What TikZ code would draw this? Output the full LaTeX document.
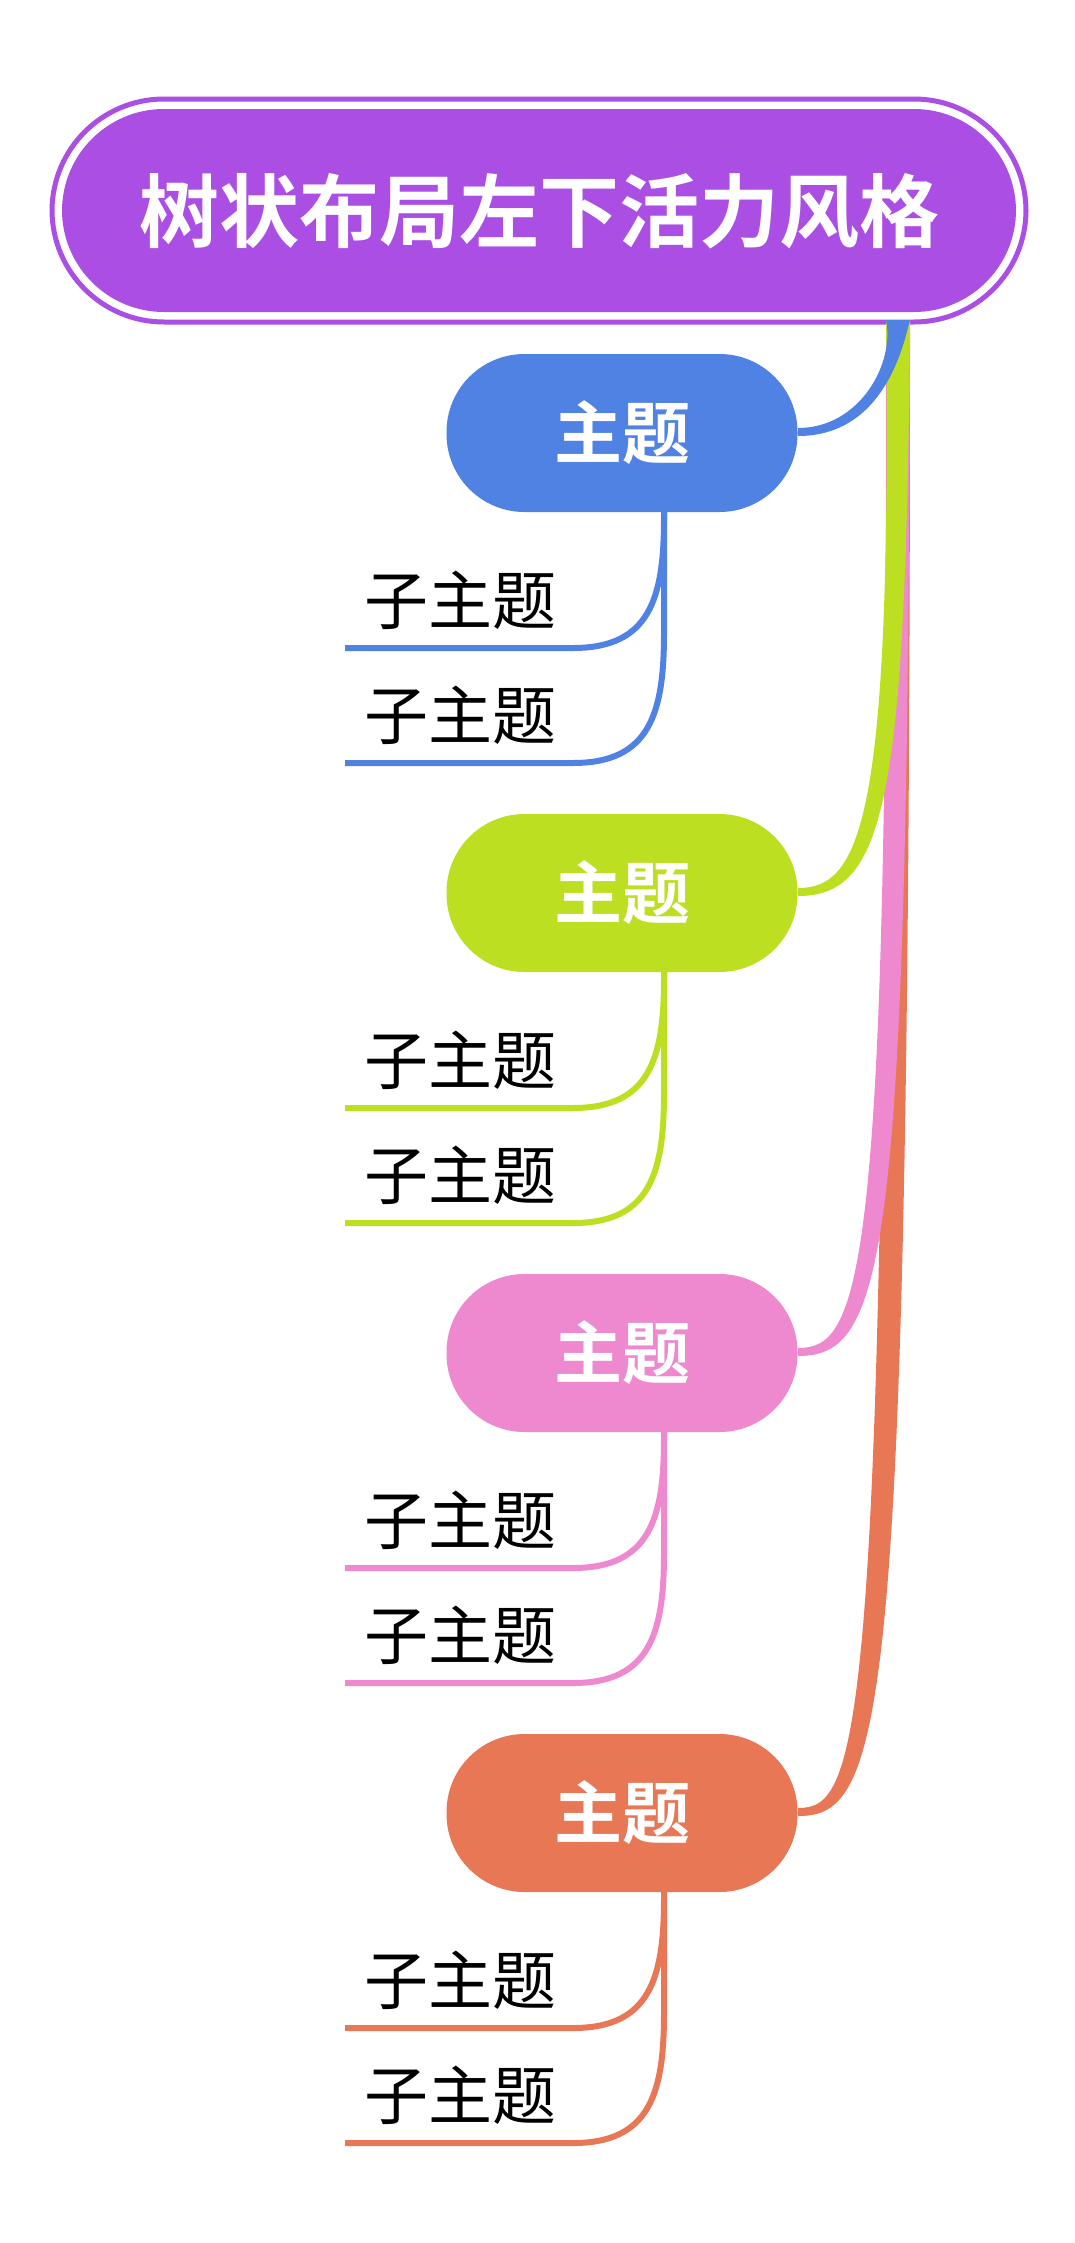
\documentclass[tikz,border=0pt]{standalone}
\usepackage{fontspec}
\newfontfamily\cjk{Noto Sans CJK SC}
\newfontfamily\cjkb{Noto Sans CJK SC Bold}
\definecolor{cpur}{HTML}{AB4FE4}
\definecolor{cblue}{HTML}{4F82E3}
\definecolor{cgreen}{HTML}{BCE021}
\definecolor{cpink}{HTML}{EE88CF}
\definecolor{corange}{HTML}{E87755}
\begin{document}
\begin{tikzpicture}[x=1pt,y=-1pt,
  topic/.style={rounded corners=78pt,minimum width=351pt,minimum height=158pt,inner sep=0pt,text=white,font=\cjkb\fontsize{68}{72}\selectfont},
  sub/.style={font=\cjk\fontsize{64}{68}\selectfont,inner sep=0pt,anchor=base}]
\useasboundingbox (0,0) rectangle (1075,2243);
% root
\draw[cpur,line width=5pt,rounded corners=112pt] (52,99) rectangle (1026,322);
\fill[cpur,rounded corners=102pt] (62,109) rectangle (1016,312);
\node[text=white,font=\cjkb\fontsize{80}{84}\selectfont] (root) at (539,211) {树状布局左下活力风格};
\foreach \y/\c [count=\i] in {1813/corange,1353/cpink,893/cgreen,433/cblue}{
  \fill[\c] (886,320) .. controls (886+3*\i-3,\y-70) and (860,\y-5) .. (798,\y-5) -- (798,\y+3)
     .. controls (885,\y+3) and (910-2*\i+2,\y-90) .. (910,320) -- cycle;
}
\foreach \y/\c [count=\i] in {433/cblue,893/cgreen,1353/cpink,1813/corange}{
  \node[topic,fill=\c] (t\i) at (622,\y) {主题};
  \coordinate (s\i) at (664,\y+79);
  \foreach \k/\d in {a/215,b/330}{
    \node[sub] (u\i\k) at (460,\y+\d-24) {子主题};
    \draw[\c,line width=6pt] (345,\y+\d) -- (573,\y+\d)
      .. controls (650,\y+\d) and (664,\y+\d-50) .. (664,\y+\d-130) -- (s\i);
  }
}
\end{tikzpicture}
\end{document}
